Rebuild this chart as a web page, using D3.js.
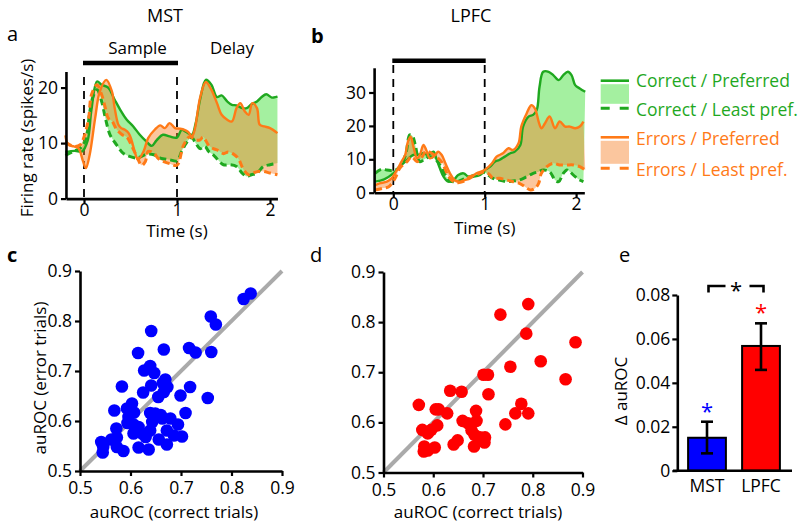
<!DOCTYPE html>
<html><head><meta charset="utf-8">
<script src="https://cdn.jsdelivr.net/npm/d3@7"></script>
<style>
body{margin:0;background:#fff;}
svg{display:block;font-family:"Open Sans",sans-serif;}
</style></head>
<body><svg id="c" width="800" height="528"></svg>
<script>
// ---------- DATA ----------
// Panel a (MST) time courses: [time (s)], [firing rate]
const mstCorrPrefT = [-0.2,-0.1,-0.02,0.04,0.08,0.14,0.19,0.26,0.33,0.39,0.46,0.53,0.6,0.67,0.73,0.78,0.85,0.92,1.0,1.05,1.1,1.16,1.2,1.25,1.31,1.37,1.43,1.48,1.54,1.59,1.64,1.7,1.75,1.8,1.86,1.91,1.96,2.02,2.08];
const mstCorrPrefV = [8.4,8.6,8.5,10.5,16,21.1,20.5,20,17.8,16,14.2,13,11.5,10.3,9.5,10.5,11.5,11.2,11,12.4,12,11.5,13.5,18,21.4,20.5,18.3,18.6,17.5,16.9,16.8,16.3,16.3,17.0,17.5,18.3,18.8,18.2,18.4];
const mstCorrLeastT = [-0.2,-0.1,-0.02,0.03,0.06,0.1,0.14,0.19,0.23,0.28,0.35,0.42,0.49,0.57,0.62,0.67,0.75,0.82,0.92,1.0,1.05,1.1,1.16,1.19,1.25,1.3,1.34,1.39,1.44,1.5,1.57,1.64,1.7,1.75,1.8,1.86,1.93,2.0,2.08];
const mstCorrLeastV = [7.8,8.6,9.4,11.5,15.4,18.5,19.6,17.5,14.5,11.5,9.7,8.2,7.6,7.3,7.6,8,7.9,7.3,7,6.8,8.5,10,11,10.3,9.0,9.4,8.5,7.9,7,6.1,6.1,5.8,4.6,4,4.3,4.6,5.8,6.1,6.4];
const mstErrPrefT = [-0.2,-0.17,-0.11,-0.06,-0.01,0.02,0.06,0.12,0.17,0.24,0.3,0.33,0.37,0.4,0.44,0.48,0.51,0.55,0.58,0.64,0.69,0.76,0.82,0.87,0.92,0.98,1.03,1.08,1.12,1.16,1.19,1.25,1.31,1.37,1.43,1.48,1.54,1.59,1.64,1.68,1.73,1.77,1.81,1.86,1.89,1.94,2.0,2.08];
const mstErrPrefV = [11.4,9.7,9.4,9.1,6.7,5.5,7.8,14.5,19.3,21.4,19.3,16.3,13.3,12.7,12.4,11.8,10.6,8.2,7,8.5,10.9,12.4,13.2,12.7,13.6,12.7,12.6,12.4,12,11.2,12.4,18.3,21,19.6,17.2,15.1,14.2,13.9,16.3,17.2,15.7,15.1,17.2,16.3,13.3,13.0,12.7,11.8];
const mstErrLeastT = [-0.2,-0.11,-0.04,0,0.05,0.08,0.14,0.19,0.23,0.26,0.3,0.35,0.41,0.46,0.51,0.57,0.62,0.66,0.69,0.75,0.8,0.85,0.92,1.0,1.07,1.14,1.19,1.25,1.28,1.34,1.39,1.44,1.5,1.55,1.6,1.66,1.71,1.77,1.82,1.87,1.93,2.0,2.08];
const mstErrLeastV = [10.2,9.4,9.7,11.1,14.5,18.7,20.5,18.7,16.3,14.5,14.0,12.5,11.5,11.1,9.6,7.5,6,6.7,8.5,8.2,7.2,6.7,6.3,6,9.6,11.2,10.6,10.6,11.1,9.6,9.0,8.7,8.1,8.4,8.1,7.2,5.4,4.3,4.6,4.9,4.9,4.6,4.3];

// Panel b (LPFC) time courses
const pfcCorrPrefT = [-0.2,-0.1,0,0.07,0.13,0.22,0.27,0.33,0.38,0.44,0.47,0.51,0.55,0.6,0.66,0.71,0.77,0.82,0.88,0.95,1.0,1.06,1.11,1.16,1.22,1.28,1.33,1.39,1.42,1.48,1.53,1.57,1.6,1.64,1.7,1.75,1.81,1.86,1.91,1.95,1.99,2.04,2.1];
const pfcCorrPrefV = [3.3,4,5.8,7.8,9.3,11.3,11.3,11.8,11.3,12.3,10.3,7.3,4.8,3.3,3.8,5.3,5.8,4.8,4.8,5.3,6.8,7.8,9.3,9.8,10.8,11.8,12.3,14.3,19.8,22.8,23.3,24.8,31.7,36.2,36.2,35.2,33.7,35.2,36.2,35.2,32.2,31.2,30.2];
const pfcCorrLeastT = [-0.2,-0.13,-0.07,0,0.05,0.09,0.14,0.18,0.21,0.24,0.29,0.35,0.4,0.47,0.51,0.57,0.62,0.69,0.76,0.84,0.95,1.0,1.09,1.16,1.24,1.31,1.38,1.46,1.53,1.59,1.64,1.71,1.77,1.81,1.86,1.9,1.93,1.99,2.04,2.08];
const pfcCorrLeastV = [5.8,7.0,6.8,6.6,7.2,8.3,12,17.3,17,14.3,9.3,10.2,10.8,9.8,8.3,5.3,3.5,3.3,4,4.8,5.8,6,4.3,3.8,3.3,3.5,3.8,4.8,5.8,6.3,6.8,6.3,3.8,3.3,5.8,6.8,6.3,4.8,3.8,3.3];
const pfcErrPrefT = [-0.2,-0.15,-0.07,-0.02,0.04,0.09,0.13,0.16,0.19,0.22,0.26,0.29,0.33,0.36,0.4,0.46,0.49,0.53,0.57,0.62,0.67,0.73,0.78,0.84,0.91,1.0,1.08,1.13,1.2,1.26,1.31,1.37,1.4,1.46,1.51,1.55,1.59,1.62,1.66,1.71,1.77,1.82,1.88,1.93,1.99,2.04,2.08];
const pfcErrPrefV = [2.3,2.8,3.3,4.3,6.8,9.3,11.3,15.3,16.8,13.8,10.3,11.3,14.3,12.8,10.3,11.3,12.3,11.3,8.8,5.8,3.8,3.3,3.8,4.3,5.8,6.8,8.8,10.8,11.8,13.3,12.8,14.8,19.8,23.8,26.2,25.2,21.3,19.3,20.8,22.8,19.3,21.3,19.8,19.8,19.3,19.8,21.3];
const pfcErrLeastT = [-0.2,-0.12,-0.05,0.02,0.07,0.15,0.2,0.26,0.31,0.36,0.42,0.47,0.52,0.56,0.6,0.65,0.7,0.76,0.84,0.92,1.0,1.05,1.09,1.16,1.24,1.31,1.38,1.44,1.5,1.55,1.59,1.62,1.68,1.75,1.82,1.9,1.97,2.04,2.1];
const pfcErrLeastV = [0.8,1.3,1.8,4.3,7.3,9.3,10.8,9.3,10.5,12.5,11.8,10.8,9.5,7.5,5.0,3.5,3.0,3.3,4.8,5.5,6.3,5.5,4.3,4.3,3.8,3.3,2.8,1.8,0.8,1.3,2.8,5.8,7.8,8.8,8.3,8.3,8.3,7.8,6.8];

// Panel c (MST) auROC correct vs error
const mstCorrect = [0.824,0.838,0.759,0.769,0.641,0.615,0.666,0.716,0.729,0.760,0.639,0.627,0.647,0.583,0.625,0.641,0.664,0.669,0.673,0.666,0.655,0.699,0.718,0.753,0.709,0.568,0.593,0.603,0.607,0.596,0.594,0.606,0.639,0.649,0.663,0.643,0.639,0.616,0.609,0.623,0.606,0.679,0.694,0.672,0.686,0.702,0.656,0.672,0.572,0.573,0.562,0.542,0.546,0.573,0.586,0.616,0.636,0.545,0.630,0.660];
const mstError   = [0.844,0.855,0.809,0.793,0.780,0.736,0.743,0.746,0.737,0.738,0.710,0.701,0.696,0.669,0.657,0.671,0.676,0.683,0.668,0.658,0.648,0.651,0.668,0.646,0.616,0.621,0.625,0.635,0.617,0.608,0.596,0.593,0.616,0.615,0.605,0.598,0.581,0.588,0.581,0.575,0.575,0.605,0.593,0.581,0.571,0.569,0.563,0.553,0.585,0.567,0.563,0.558,0.548,0.548,0.540,0.547,0.543,0.537,0.568,0.612];
// Panel d (LPFC)
const pfcCorrect = [0.735,0.791,0.787,0.755,0.816,0.866,0.886,0.701,0.710,0.711,0.634,0.657,0.571,0.605,0.611,0.628,0.686,0.777,0.765,0.791,0.745,0.659,0.670,0.687,0.677,0.683,0.694,0.704,0.703,0.682,0.641,0.649,0.578,0.596,0.608,0.589,0.582,0.589,0.603,0.581];
const pfcError   = [0.815,0.836,0.777,0.711,0.722,0.686,0.760,0.695,0.695,0.656,0.663,0.661,0.635,0.626,0.626,0.618,0.623,0.637,0.618,0.618,0.596,0.603,0.598,0.603,0.584,0.575,0.570,0.570,0.560,0.552,0.556,0.564,0.585,0.585,0.594,0.578,0.552,0.544,0.550,0.542];
// Panel e
const areas = ["MST","LPFC"];
const deltaMean = [0.0150,0.0568];
const deltaLow  = [0.0079,0.0459];
const deltaHigh = [0.0223,0.0671];
const scatterTicks = [0.5,0.6,0.7,0.8,0.9];
const deltaTicks = [0,0.02,0.04,0.06,0.08];
const timeTicks = [0,1,2];
const legendLabels = ["Correct / Preferred","Correct / Least pref.","Errors / Preferred","Errors / Least pref."];

// ---------- STYLE ----------
const GREEN = "#1fa81f", GREEN_FILL = "#a4f0a0", ORANGE = "#ff7a17", ORANGE_FILL = "rgb(246,128,40)";
const svg = d3.select("#c");
const FS = 17.5;

function styleAxis(g){
  g.selectAll(".domain").attr("stroke","#000").attr("stroke-width",2.6);
  g.selectAll(".tick line").attr("stroke","#000").attr("stroke-width",2.2);
  g.selectAll(".tick text").attr("font-size",FS).attr("font-family","Open Sans").attr("fill","#000");
}
function txt(x,y,s,opts={}){
  const t = svg.append("text").attr("x",x).attr("y",y).text(s)
    .attr("font-size",opts.fs||17).attr("fill",opts.fill||"#000")
    .attr("text-anchor",opts.anchor||"start").attr("font-weight",opts.fw||"normal");
  if(opts.rot!==undefined) t.attr("transform",`rotate(${opts.rot},${x},${y})`);
  return t;
}

// ---------- TIME COURSE PANELS ----------
function timePanel(cfg){
  const {x,y,curves} = cfg;
  const g = svg.append("g");
  const line = d3.line().curve(d3.curveCatmullRom.alpha(0.5));
  const pts = (T,V)=>T.map((t,i)=>[x(t),y(V[i])]);
  const band = (T1,V1,T2,V2)=> line(pts(T1,V1)) + line(pts(T2,V2).reverse()).replace(/^M/,"L") + "Z";
  [0,1].forEach(t=>g.append("line").attr("x1",x(t)).attr("x2",x(t)).attr("y1",cfg.dashTop).attr("y2",y(0))
     .attr("stroke","#000").attr("stroke-width",1.8).attr("stroke-dasharray","8,6"));
  g.append("line").attr("x1",x(0)-1).attr("x2",x(1)+1).attr("y1",cfg.barY).attr("y2",cfg.barY).attr("stroke","#000").attr("stroke-width",4.5);
  g.append("path").attr("d",band(curves.cpT,curves.cpV,curves.clT,curves.clV)).attr("fill",GREEN_FILL);
  g.append("path").attr("d",band(curves.epT,curves.epV,curves.elT,curves.elV)).attr("fill",ORANGE_FILL).attr("fill-opacity",0.45);
  g.append("path").attr("d",line(pts(curves.clT,curves.clV))).attr("fill","none").attr("stroke",GREEN).attr("stroke-width",3).attr("stroke-dasharray","7,4");
  g.append("path").attr("d",line(pts(curves.cpT,curves.cpV))).attr("fill","none").attr("stroke",GREEN).attr("stroke-width",2.4);
  g.append("path").attr("d",line(pts(curves.elT,curves.elV))).attr("fill","none").attr("stroke",ORANGE).attr("stroke-width",3).attr("stroke-dasharray","7,4");
  g.append("path").attr("d",line(pts(curves.epT,curves.epV))).attr("fill","none").attr("stroke",ORANGE).attr("stroke-width",2.4);
  const ax = svg.append("g").attr("transform",`translate(0,${y(0)})`)
    .call(d3.axisBottom(x).tickValues(timeTicks).tickSize(5).tickSizeOuter(0).tickPadding(cfg.xPad).tickFormat(d3.format("d")));
  styleAxis(ax);
  const ay = svg.append("g").attr("transform",`translate(${x.range()[0]},0)`)
    .call(d3.axisLeft(y).tickValues(cfg.yTicks).tickSize(5).tickSizeOuter(0).tickPadding(3));
  styleAxis(ay);
  txt(x(1),cfg.timeY,"Time (s)",{anchor:"middle"});
}

const xA = d3.scaleLinear().domain([-0.194,2.08]).range([84-0.194*93,84+2.08*93]);
const yA = d3.scaleLinear().domain([0,22.9]).range([198.6,198.6-22.9*5.55]);
timePanel({x:xA,y:yA,yTicks:[0,10,20],dashTop:77,barY:63,xPad:0,timeY:237,curves:{
  cpT:mstCorrPrefT,cpV:mstCorrPrefV,clT:mstCorrLeastT,clV:mstCorrLeastV,
  epT:mstErrPrefT,epV:mstErrPrefV,elT:mstErrLeastT,elV:mstErrLeastV}});
const xB = d3.scaleLinear().domain([-0.21,2.09]).range([393.3-0.21*91.4,393.3+2.09*91.4]);
const yB = d3.scaleLinear().domain([0,37.4]).range([192.7,192.7-37.4*3.34]);
timePanel({x:xB,y:yB,yTicks:[0,10,20,30],dashTop:65,barY:60.7,xPad:0,timeY:234,curves:{
  cpT:pfcCorrPrefT,cpV:pfcCorrPrefV,clT:pfcCorrLeastT,clV:pfcCorrLeastV,
  epT:pfcErrPrefT,epV:pfcErrPrefV,elT:pfcErrLeastT,elV:pfcErrLeastV}});

txt(165,22,"MST",{anchor:"middle",fs:18});
txt(471,22,"LPFC",{anchor:"middle",fs:18});
txt(137.5,54,"Sample",{anchor:"middle"});
txt(232,54,"Delay",{anchor:"middle"});
txt(33,138,"Firing rate (spikes/s)",{anchor:"middle",rot:-90});
txt(7,41,"a",{fs:20});
txt(311,43,"b",{fs:20,fw:"bold"});

// legend
const legY = [[80.7,87],[108.3,115.5],[137.3,144.5],[168.3,175.5]];
[[GREEN,GREEN_FILL,1],[ORANGE,ORANGE_FILL,0.45]].forEach((c,k)=>{
  const yTop = legY[2*k][0], yBot = legY[2*k+1][0];
  svg.append("rect").attr("x",600.7).attr("y",yTop+3.5).attr("width",28.3).attr("height",yBot-yTop-8).attr("fill",c[1]).attr("fill-opacity",c[2]);
  svg.append("line").attr("x1",600.7).attr("x2",629).attr("y1",yTop).attr("y2",yTop).attr("stroke",c[0]).attr("stroke-width",2.6);
  svg.append("line").attr("x1",600.7).attr("x2",629).attr("y1",yBot).attr("y2",yBot).attr("stroke",c[0]).attr("stroke-width",3).attr("stroke-dasharray","9,10");
  txt(636,legY[2*k][1],legendLabels[2*k],{fill:c[0],fs:17.5});
  txt(636,legY[2*k+1][1],legendLabels[2*k+1],{fill:c[0],fs:17.5});
});

// ---------- SCATTER PANELS ----------
function scatter(cfg){
  const {x,y,xs,ys,color} = cfg;
  svg.append("line").attr("x1",x(0.5)).attr("y1",y(0.5)).attr("x2",x(0.9)).attr("y2",y(0.9))
    .attr("stroke","#aaa").attr("stroke-width",4);
  svg.append("g").selectAll("circle").data(xs).join("circle")
    .attr("cx",(d)=>x(d)).attr("cy",(d,i)=>y(ys[i])).attr("r",6.3).attr("fill",color);
  const ax = svg.append("g").attr("transform",`translate(0,${y.range()[0]})`)
    .call(d3.axisBottom(x).tickValues(scatterTicks).tickSize(5).tickSizeOuter(0).tickPadding(6).tickFormat(d3.format(".1f")));
  styleAxis(ax);
  const ay = svg.append("g").attr("transform",`translate(${x.range()[0]},0)`)
    .call(d3.axisLeft(y).tickValues(scatterTicks).tickSize(5).tickSizeOuter(0).tickPadding(3).tickFormat(d3.format(".1f")));
  styleAxis(ay);
  txt((x.range()[0]+x.range()[1])/2+cfg.xlabOff,518,"auROC (correct trials)",{anchor:"middle"});
}
const xC = d3.scaleLinear().domain([0.5,0.9]).range([80,282]);
const yC = d3.scaleLinear().domain([0.5,0.9]).range([471,271]);
scatter({x:xC,y:yC,xs:mstCorrect,ys:mstError,color:"#0000ff",xlabOff:-7});
txt(46,378,"auROC (error trials)",{anchor:"middle",rot:-90});
txt(7,262,"c",{fs:20,fw:"bold"});
const xD = d3.scaleLinear().domain([0.5,0.9]).range([383.5,582.5]);
const yD = d3.scaleLinear().domain([0.5,0.9]).range([472.5,272]);
scatter({x:xD,y:yD,xs:pfcCorrect,ys:pfcError,color:"#ff0000",xlabOff:-5});
txt(310,262,"d",{fs:20});

// ---------- BAR PANEL ----------
const xE = d3.scaleBand().domain(areas).range([680,788]).paddingInner(0.3).paddingOuter(0.15);
const yE = d3.scaleLinear().domain([0,0.08]).range([470.7,295]);
svg.append("g").selectAll("rect").data(areas).join("rect")
  .attr("x",d=>xE(d)).attr("width",xE.bandwidth())
  .attr("y",(d,i)=>yE(deltaMean[i])).attr("height",(d,i)=>yE(0)-yE(deltaMean[i]))
  .attr("fill",(d,i)=>i?"#ff0000":"#0000ff").attr("stroke","#000").attr("stroke-width",2);
areas.forEach((a,i)=>{
  const cx = xE(a)+xE.bandwidth()/2;
  svg.append("line").attr("x1",cx).attr("x2",cx).attr("y1",yE(deltaLow[i])).attr("y2",yE(deltaHigh[i])).attr("stroke","#000").attr("stroke-width",2.6);
  [deltaLow[i],deltaHigh[i]].forEach(v=>svg.append("line").attr("x1",cx-6).attr("x2",cx+6).attr("y1",yE(v)).attr("y2",yE(v)).attr("stroke","#000").attr("stroke-width",2.6));
  txt(cx,yE(deltaHigh[i])-15,"*",{anchor:"middle",fs:22,fill:i?"#ff0000":"#0000ff"}).attr("dy","0.55em");
});
const axE = svg.append("g").attr("transform",`translate(0,${yE(0)})`)
  .call(d3.axisBottom(xE).tickSize(0).tickSizeOuter(0).tickPadding(9));
axE.select(".domain").attr("d","M673,0H792");
styleAxis(axE);
const ayE = svg.append("g").attr("transform","translate(677.3,0)")
  .call(d3.axisLeft(yE).tickValues(deltaTicks).tickSize(5).tickSizeOuter(0).tickPadding(2).tickFormat(d=>d===0?"0":d3.format(".2f")(d)));
styleAxis(ayE);
const bx1 = xE("MST")+xE.bandwidth()/2+1.5, bx2 = xE("LPFC")+xE.bandwidth()/2+2.5, by = 286;
svg.append("path").attr("d",`M${bx1},${by+6.5}V${by}H${bx1+17}`).attr("fill","none").attr("stroke","#000").attr("stroke-width",2.6);
svg.append("path").attr("d",`M${bx2-14},${by}H${bx2}V${by+6.5}`).attr("fill","none").attr("stroke","#000").attr("stroke-width",2.6);
txt((bx1+bx2)/2,by+12,"*",{anchor:"middle",fs:22});
txt(627,391,"Δ auROC",{anchor:"middle",rot:-90});
txt(619,262,"e",{fs:20});
</script></body></html>
